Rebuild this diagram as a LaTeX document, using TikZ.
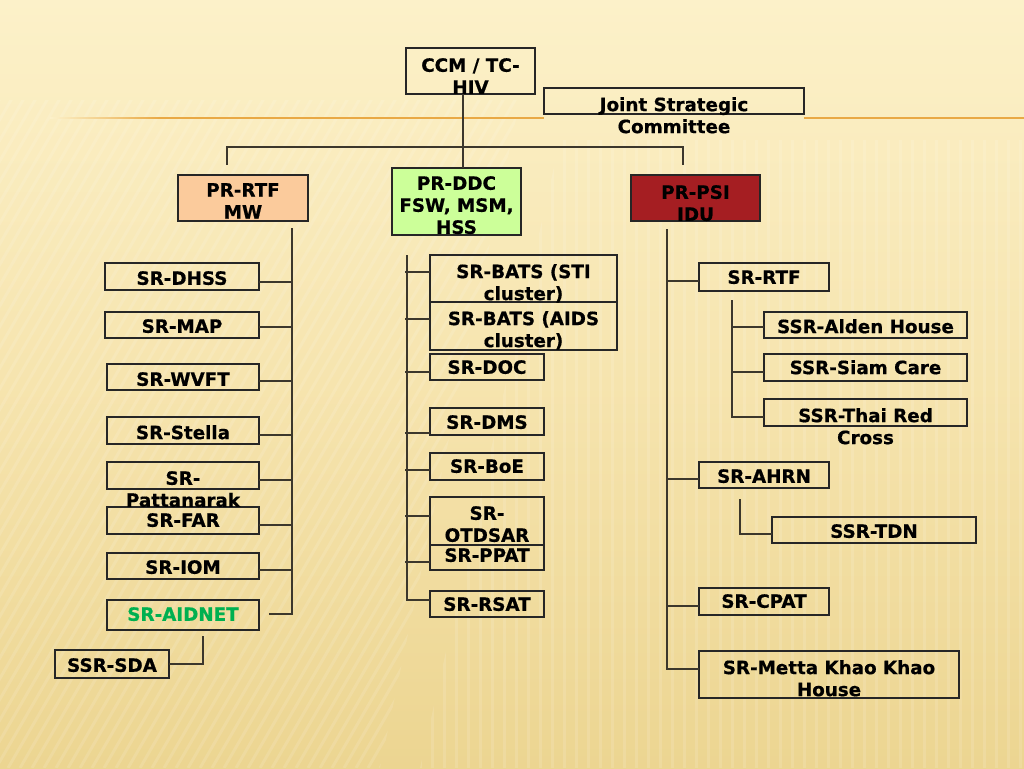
\documentclass[tikz,border=0pt]{standalone}
\usepackage{fontspec}
\setmainfont{DejaVu Sans}[BoldFeatures={FakeBold=0.6}]
\usetikzlibrary{calc}
\definecolor{bgtop}{HTML}{FCF1C9}
\definecolor{bgmid}{HTML}{F6E4AE}
\definecolor{bgbot}{HTML}{ECD591}
\definecolor{peach}{HTML}{FBCB9C}
\definecolor{lgreen}{HTML}{CCFF99}
\definecolor{dred}{HTML}{A51E22}
\definecolor{aidgreen}{HTML}{00B050}
\definecolor{orangeline}{HTML}{E9A945}
\definecolor{linegray}{HTML}{3C372C}
\newcommand\obox[6][]{\node[box,#1,minimum width={#5pt-#3pt},minimum height={#6pt-#4pt}] (#2) at (#3,#4) {};}
\newcommand\otext[4][]{\node[lbl,#1] (#2-t) at ([yshift=-#3pt]#2.north) {#4};}
\begin{document}
\begin{tikzpicture}[x=1pt,y=-1pt,
  box/.style={draw=black!85, line width=1.2pt, inner sep=0pt, outer sep=0pt, anchor=north west},
  lbl/.style={font=\bfseries\fontsize{18.3}{22}\selectfont, align=center, inner sep=0pt, anchor=north, text=black},
  conn/.style={draw=linegray, line width=1.3pt},
  stripe/.style={draw=white, line width=3pt, opacity=0.12}]
\useasboundingbox (0,0) rectangle (1024,768);
% background
\shade[top color=bgtop, bottom color=bgbot, middle color=bgmid] (0,0) rectangle (1024,768);
\begin{scope}
\clip (0,100) -- (520,100) -- (380,768) -- (0,768) -- cycle;
\foreach \i in {-400,-388,...,560} \draw[stripe] (\i,768) -- (\i+390,95);
\end{scope}
\begin{scope}
\clip (560,140) -- (1024,140) -- (1024,768) -- (420,768) -- cycle;
\foreach \i in {420,432,...,1024} \draw[stripe] (\i,140) -- (\i,768);
\end{scope}
% boxes
\obox{ccm}{406}{48}{535}{94}
\obox{jsc}{544}{88}{804}{114}
\obox[fill=peach]{rtf}{178}{175}{308}{221}
\obox[fill=lgreen]{ddc}{392}{168}{521}{235}
\obox[fill=dred]{psi}{631}{175}{760}{221}
% left
\obox{dhss}{105}{263}{259}{290}
\obox{map}{105}{312}{259}{338}
\obox{wvft}{107}{364}{259}{390}
\obox{stella}{107}{417}{259}{444}
\obox{patt}{107}{462}{259}{489}
\obox{far}{107}{507}{259}{534}
\obox{iom}{107}{553}{259}{579}
\obox{aidnet}{107}{600}{259}{630}
\obox{sda}{55}{650}{169}{678}
% middle
\obox{bsti}{430}{255}{617}{302}
\obox{baids}{430}{302}{617}{350}
\obox{doc}{430}{354}{544}{380}
\obox{dms}{430}{408}{544}{435}
\obox{boe}{430}{453}{544}{480}
\obox{otd}{430}{497}{544}{545}
\obox{ppat}{430}{545}{544}{570}
\obox{rsat}{430}{591}{544}{617}
% right
\obox{srtf}{699}{263}{829}{291}
\obox{alden}{764}{312}{967}{338}
\obox{siam}{764}{354}{967}{381}
\obox{thai}{764}{399}{967}{426}
\obox{ahrn}{699}{462}{829}{488}
\obox{tdn}{772}{517}{976}{543}
\obox{cpat}{699}{588}{829}{615}
\obox{metta}{699}{651}{959}{698}
% texts
\otext{ccm}{10}{CCM / TC-\\HIV}
\otext{jsc}{9}{Joint Strategic\\Committee}
\otext{rtf}{8}{PR-RTF\\MW}
\otext{ddc}{8}{PR-DDC\\FSW, MSM,\\HSS}
\otext{psi}{10}{PR-PSI\\IDU}
\otext{dhss}{8}{SR-DHSS}
\otext{map}{7}{SR-MAP}
\otext{wvft}{8}{SR-WVFT}
\otext{stella}{8}{SR-Stella}
\otext{patt}{9}{SR-\\Pattanarak}
\otext{far}{6}{SR-FAR}
\otext{iom}{7}{SR-IOM}
\otext[text=aidgreen]{aidnet}{7}{SR-AIDNET}
\otext{sda}{8}{SSR-SDA}
\otext{bsti}{9}{SR-BATS (STI\\cluster)}
\otext{baids}{9}{SR-BATS (AIDS\\cluster)}
\otext{doc}{6}{SR-DOC}
\otext{dms}{7}{SR-DMS}
\otext{boe}{6}{SR-BoE}
\otext{otd}{9}{SR-\\OTDSAR}
\otext{ppat}{3}{SR-PPAT}
\otext{rsat}{6}{SR-RSAT}
\otext{srtf}{7}{SR-RTF}
\otext{alden}{7}{SSR-Alden House}
\otext{siam}{6}{SSR-Siam Care}
\otext{thai}{9}{SSR-Thai Red\\Cross}
\otext{ahrn}{7}{SR-AHRN}
\otext{tdn}{7}{SSR-TDN}
\otext{cpat}{6}{SR-CPAT}
\otext{metta}{9}{SR-Metta Khao Khao\\House}
% orange decorative line
\shade[left color=bgtop, right color=orangeline] (50,117.3) rectangle (160,118.7);
\draw[orangeline, line width=1.4pt] (160,118) -- (jsc.west |- 0,118);
\draw[orangeline, line width=1.4pt] (jsc.east |- 0,118) -- (1024,118);
% top connectors
\coordinate (topx) at (463,147);
\coordinate (hl) at (227,147);
\coordinate (hr) at (683,147);
\draw[conn] (ccm.south -| topx) -- (ddc.north -| topx);
\draw[conn] ([yshift=10pt]rtf.north -| hl) -- (hl) -- (hr) -- ([yshift=10pt]psi.north -| hr);
% left column
\coordinate (lvt) at (292,228);
\draw[conn] (lvt) -- (lvt |- 0,614) -- ([xshift=10pt]aidnet.east |- 0,614);
\foreach \n/\y in {dhss/282,map/327,wvft/381,stella/435,patt/480,far/525,iom/570}
  \draw[conn] (\n.east |- 0,\y) -- (lvt |- 0,\y);
\coordinate (sdax) at (203,636);
\draw[conn] (sdax) -- (sdax |- sda.east) -- (sda.east);
% middle column
\coordinate (mvt) at (407,255);
\draw[conn] (mvt) -- (mvt |- 0,600) -- (rsat.west |- 0,600);
\foreach \n/\y in {bsti/272,baids/319,doc/372,dms/433,boe/470,otd/516,ppat/562}
  \draw[conn] ([xshift=-2pt]mvt |- 0,\y) -- (\n.west |- 0,\y);
% right column
\coordinate (rvt) at (667,229);
\draw[conn] (rvt) -- (rvt |- 0,669) -- (metta.west |- 0,669);
\foreach \n/\y in {srtf/281,ahrn/479,cpat/606}
  \draw[conn] (rvt |- 0,\y) -- (\n.west |- 0,\y);
\coordinate (svt) at (732,300);
\draw[conn] (svt) -- (svt |- 0,417) -- (thai.west |- 0,417);
\foreach \n/\y in {alden/327,siam/372}
  \draw[conn] (svt |- 0,\y) -- (\n.west |- 0,\y);
\coordinate (tvt) at (740,499);
\draw[conn] (tvt) -- (tvt |- 0,534) -- (tdn.west |- 0,534);
\end{tikzpicture}
\end{document}
